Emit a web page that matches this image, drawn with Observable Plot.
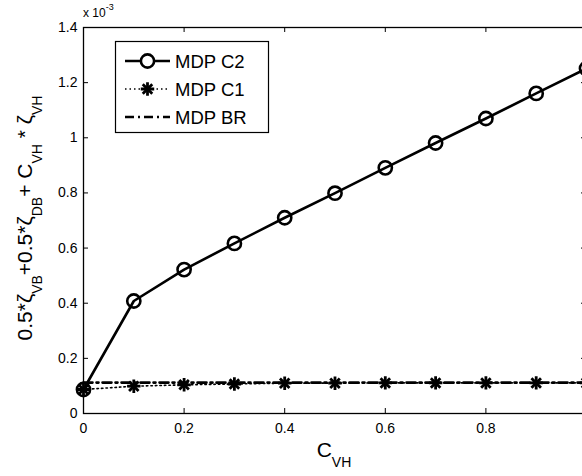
<!DOCTYPE html>
<html><head><meta charset="utf-8">
<script src="https://cdn.jsdelivr.net/npm/d3@7"></script>
<script src="https://cdn.jsdelivr.net/npm/@observablehq/plot@0.6"></script>
<style>
body{margin:0;background:#fff;overflow:hidden}
svg{font-family:"Liberation Sans",Arial,sans-serif}
</style>
</head><body><div id="chart"></div>
<script>
// Data (values in units of 1e-3)
const cvh = [0, 0.1, 0.2, 0.3, 0.4, 0.5, 0.6, 0.7, 0.8, 0.9, 1.0];
const mdpC2 = [0.087, 0.408, 0.522, 0.617, 0.710, 0.799, 0.891, 0.981, 1.070, 1.161, 1.251];
const mdpC1 = [0.087, 0.099, 0.104, 0.107, 0.110, 0.110, 0.111, 0.111, 0.111, 0.111, 0.111];
const mdpBR = [0.112, 0.112, 0.112, 0.112, 0.112, 0.112, 0.112, 0.112, 0.112, 0.112, 0.112];
const seriesNames = ["MDP C2", "MDP C1", "MDP BR"];
const xTicks = [0, 0.2, 0.4, 0.6, 0.8, 1];
const xTickLabels = ["0", "0.2", "0.4", "0.6", "0.8", "1"];
const yTicks = [0, 0.2, 0.4, 0.6, 0.8, 1, 1.2, 1.4];
const yTickLabels = ["0", "0.2", "0.4", "0.6", "0.8", "1", "1.2", "1.4"];

const rows = cvh.map((x, i) => ({x, c2: mdpC2[i], c1: mdpC1[i], br: mdpBR[i]}));

const W = 582, H = 476, mL = 83, mR = -4, mT = 27, mB = 63;
const fw = W - mL - mR, fh = H - mT - mB;
const font = '"Liberation Sans", Arial, sans-serif';
const LW = 2.6, SW = 2.8, SR = 4.4, CR = 6.6;

const plot = Plot.plot({
  width: W, height: H,
  marginLeft: mL, marginRight: mR, marginTop: mT, marginBottom: mB,
  x: {domain: [0, 1]},
  y: {domain: [0, 1.4]},
  style: {fontFamily: font, fontSize: "14px", background: "white", color: "black"},
  marks: [
    Plot.tickX(xTicks, {x: d => d, insetTop: fh - 5, stroke: "black", strokeWidth: 1}),
    Plot.tickX(xTicks, {x: d => d, insetBottom: fh - 5, stroke: "black", strokeWidth: 1}),
    Plot.tickY(yTicks, {y: d => d, insetRight: fw - 5, stroke: "black", strokeWidth: 1}),
    Plot.tickY(yTicks, {y: d => d, insetLeft: fw - 5, stroke: "black", strokeWidth: 1}),
    Plot.axisX(xTicks, {anchor: "bottom", tickSize: 0, tickPadding: 10, label: null,
      tickFormat: d => xTickLabels[xTicks.indexOf(d)], fontSize: 14, fill: "black"}),
    Plot.axisY(yTicks, {anchor: "left", tickSize: 0, tickPadding: 6, label: null,
      tickFormat: d => yTickLabels[yTicks.indexOf(d)], fontSize: 14, fill: "black"}),
    Plot.frame({stroke: "black", strokeWidth: 1.3}),
    Plot.line(rows, {x: "x", y: "c1", stroke: "black", strokeWidth: 1.6, strokeDasharray: "1.5,3"}),
    Plot.line(rows, {x: "x", y: "br", stroke: "black", strokeWidth: LW, strokeDasharray: "9,4,2,4"}),
    Plot.line(rows, {x: "x", y: "c2", stroke: "black", strokeWidth: LW}),
    Plot.dot(rows, {x: "x", y: "c1", symbol: "plus", r: SR, stroke: "black", strokeWidth: SW}),
    Plot.dot(rows, {x: "x", y: "c1", symbol: "times", r: SR, stroke: "black", strokeWidth: SW}),
    Plot.dot(rows, {x: "x", y: "c2", r: CR, stroke: "black", strokeWidth: LW, fill: "none"})
  ]
});
document.getElementById("chart").appendChild(plot);

const svg = d3.select(plot);

// x 10^-3 multiplier
const mult = svg.append("text").attr("x", 83).attr("y", 17).attr("font-size", 12)
  .attr("text-anchor", "start").attr("fill", "black");
mult.append("tspan").text("x 10");
mult.append("tspan").attr("font-size", 9).attr("dy", -7).text("-3");

// x label C_VH
const xl = svg.append("text").attr("x", 334).attr("y", 457).attr("text-anchor", "middle")
  .attr("font-size", 21).attr("fill", "black");
xl.append("tspan").text("C");
xl.append("tspan").attr("font-size", 14).attr("dy", 10).text("VH");

// y label
const yl = svg.append("text").attr("transform", "translate(32,218) rotate(-90)")
  .attr("text-anchor", "middle").attr("font-size", 21).attr("fill", "black");
const parts = [
  ["0.5*ζ", false], ["VB", true], ["+0.5*ζ", false], ["DB", true],
  ["+ C", false], ["VH", true], [" * ζ", false], ["VH", true]
];
let sub = false;
parts.forEach(([t, s]) => {
  const dy = s === sub ? 0 : (s ? 10 : -10);
  yl.append("tspan").attr("font-size", s ? 14 : 21).attr("dy", dy).text(t);
  sub = s;
});

// legend
const lg = svg.append("g").attr("text-anchor", "start");
lg.append("rect").attr("x", 115.5).attr("y", 41.5).attr("width", 153).attr("height", 91)
  .attr("fill", "white").attr("stroke", "black").attr("stroke-width", 1.2);
const rowY = [61, 89, 117];
const dashes = [null, "1.5,3", "9,4,2,4"];
seriesNames.forEach((name, i) => {
  const y = rowY[i];
  const ln = lg.append("line").attr("x1", 125).attr("x2", 170).attr("y1", y).attr("y2", y)
    .attr("stroke", "black").attr("stroke-width", i === 1 ? 1.6 : LW);
  if (dashes[i]) ln.attr("stroke-dasharray", dashes[i]);
  if (i === 0) {
    lg.append("circle").attr("cx", 147.5).attr("cy", y).attr("r", CR)
      .attr("fill", "white").attr("stroke", "black").attr("stroke-width", LW);
  } else if (i === 1) {
    lg.append("path").attr("transform", `translate(147.5,${y})`)
      .attr("d", d3.symbol(d3.symbolPlus, Math.PI * SR * SR)())
      .attr("fill", "none").attr("stroke", "black").attr("stroke-width", SW);
    lg.append("path").attr("transform", `translate(147.5,${y})`)
      .attr("d", d3.symbol(d3.symbolTimes, Math.PI * SR * SR)())
      .attr("fill", "none").attr("stroke", "black").attr("stroke-width", SW);
  }
  lg.append("text").attr("x", 175).attr("y", y + 6.5).attr("font-size", 18.5)
    .attr("text-anchor", "start").attr("fill", "black").text(name);
});
</script>
</body></html>
